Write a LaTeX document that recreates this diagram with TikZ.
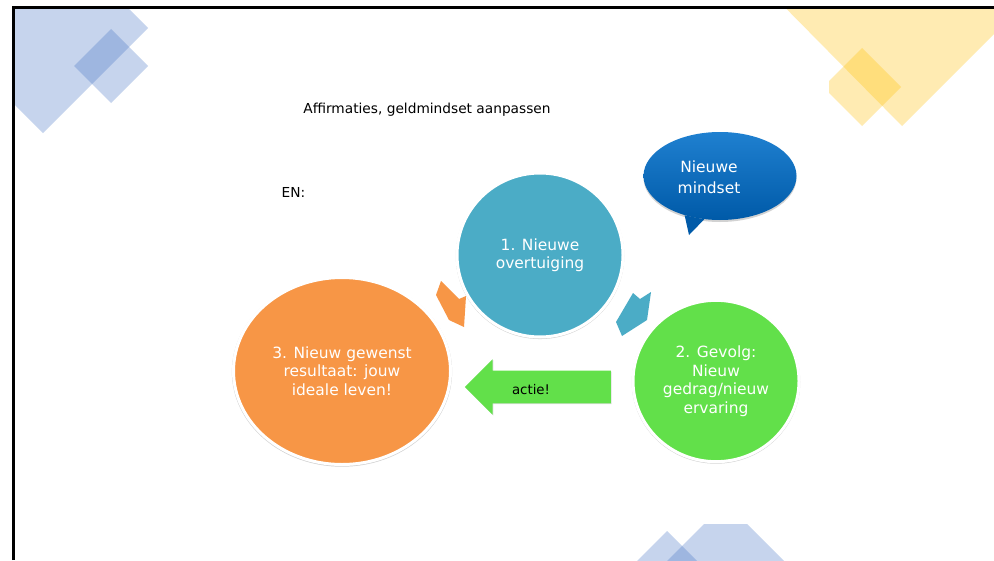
\documentclass[tikz,border=0pt]{standalone}
\usepackage{fontspec}
\setmainfont{DejaVu Sans}
\usetikzlibrary{positioning,shapes.geometric,shapes.arrows,shadows}

\definecolor{vlakblauw}{HTML}{4472C4}
\definecolor{vlakgeel}{HTML}{FFC000}
\definecolor{stap1}{HTML}{4BACC6}
\definecolor{stap2}{HTML}{62E04A}
\definecolor{stap3}{HTML}{F79646}
\definecolor{bubbelboven}{HTML}{1F80D0}
\definecolor{bubbelonder}{HTML}{005AA8}

\begin{document}
\begin{tikzpicture}[x=0.75pt,y=-0.75pt,
    stap/.style={ellipse,draw=white,line width=2.25pt,text=white,align=center,inner sep=0pt,
        font=\fontsize{11.6}{13.9}\selectfont,
        general shadow={fill=black!18,shadow scale=1.015,shadow yshift=-0.6pt}},
    vlak/.style={fill=#1,fill opacity=0.3}]
    \useasboundingbox (0,0) rectangle (994,560);
    \fill[white] (0,0) rectangle (994,560);

    % Decorative squares in the corners
    \begin{scope}
        \clip (15,9) rectangle (994,560);
        \fill[vlak=vlakblauw] (43,-77) -- (148,28) -- (43,133) -- (-62,28) -- cycle;
        \fill[vlak=vlakblauw] (111,29) -- (148,66) -- (111,103) -- (74,66) -- cycle;
        \fill[vlak=vlakgeel] (752,-26) -- (902,126) -- (1054,-26) -- (902,-178) -- cycle;
        \begin{scope}
            \clip (829,0) rectangle (994,200);
            \fill[vlak=vlakgeel] (862,48) -- (901,87) -- (862,126) -- (823,87) -- cycle;
        \end{scope}
        \fill[vlak=vlakblauw] (667,531) -- (697,561) -- (667,591) -- (637,561) -- cycle;
        \fill[vlak=vlakblauw] (704,524) -- (747,524) -- (800,577) -- (651,577) -- cycle;
    \end{scope}

    % Slide frame
    \draw[line width=2.25pt] (13.5,560) -- (13.5,7.5) -- (994,7.5);

    % Heading texts
    \node[font=\fontsize{10.3}{12.4}\selectfont] (titel) at (427,110) {Affirmaties, geldmindset aanpassen};
    \node[font=\fontsize{10.3}{12.4}\selectfont] (en) at (293.5,192.5) {EN:};

    % Cycle steps
    \node[stap,fill=stap1,minimum width=124.5pt,minimum height=123pt] (stap1) at (540,255) {1. Nieuwe\\overtuiging};
    \node[stap,fill=stap2,minimum width=124.5pt,minimum height=121pt] (stap2) at (716,381) {2. Gevolg:\\Nieuw\\gedrag/nieuw\\ervaring};
    \node[stap,fill=stap3,minimum width=162.75pt,minimum height=140.25pt] (stap3) at (342,371) {3. Nieuw gewenst\\resultaat: jouw\\ideale leven!};

    % Small arrows between the steps
    \fill[stap1] (633,293) -- (640,299) -- (651,292) -- (647,320) -- (622,336) -- (616,322) -- cycle;
    \fill[stap3] (441,281) -- (459,299) -- (466,296) -- (464,327) -- (449,320) -- (436,295) -- cycle;

    % Action arrow
    \node[single arrow,shape border rotate=180,fill=stap2,inner xsep=0pt,inner ysep=12pt,
        minimum height=109.5pt,single arrow head extend=8.6pt,
        drop shadow={shadow xshift=0.6pt,shadow yshift=-0.6pt,opacity=0.25}] (actie) at (546,387) {};
    \node[font=\fontsize{10}{12}\selectfont] (actietekst) at (531,389.5) {actie!};

    % Speech bubble
    \node[ellipse,minimum width=114.75pt,minimum height=66pt,top color=bubbelboven,bottom color=bubbelonder,
        drop shadow={shadow xshift=0pt,shadow yshift=-1.5pt,opacity=0.35}] (bubbel) at (720,176) {};
    \coordinate (staart) at (689,235);
    \fill[bubbelonder] (bubbel.228) -- (staart) -- (bubbel.250) -- cycle;
    \node[text=white,align=center,font=\fontsize{11.6}{15.5}\selectfont] (bubbeltekst) at (709,177) {Nieuwe\\mindset};
\end{tikzpicture}
\end{document}
